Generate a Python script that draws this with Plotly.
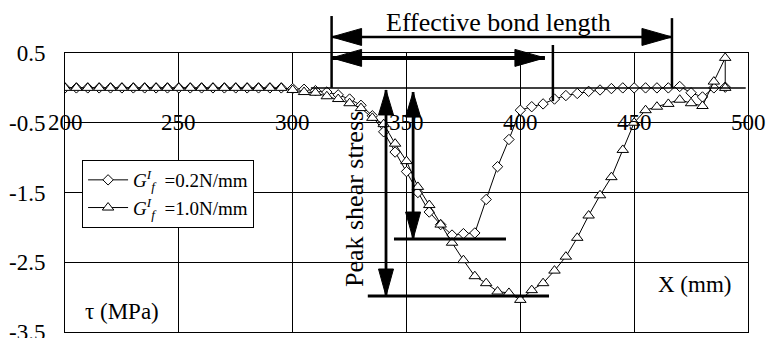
import plotly.graph_objects as go

# ---------------- data ----------------
x_vals = list(range(200, 495, 5))  # 200 ... 490 mm

tau_g02 = [0.0] * 20 + [
    -0.01, -0.02, -0.04, -0.06, -0.10, -0.16, -0.25, -0.40, -0.63, -0.92,   # 300-345
    -1.20, -1.50, -1.78, -1.96, -2.11, -2.09, -2.08, -1.60, -1.13, -0.74,   # 350-395
    -0.32, -0.27, -0.23, -0.16, -0.11, -0.08, -0.05, -0.03, -0.01, 0.00,    # 400-445
    0.00, 0.00, 0.00, 0.00, 0.02, -0.07, -0.13, 0.00, 0.01                  # 450-490
]

x_g10 = x_vals + [490]
tau_g10 = [0.0] * 20 + [
    -0.03, -0.06, -0.07, -0.12, -0.16, -0.22, -0.29, -0.43, -0.52, -0.80,   # 300-345
    -1.05, -1.42, -1.68, -1.96, -2.22, -2.47, -2.70, -2.80, -2.92, -2.94,   # 350-395
    -3.04, -2.90, -2.80, -2.62, -2.42, -2.15, -1.83, -1.54, -1.28, -0.89,   # 400-445
    -0.50, -0.32, -0.27, -0.23, -0.17, -0.22, -0.26, 0.09, 0.43, 0.00       # 450-490, 490
]

series_names = ["<i>G</i><sup><i>I</i></sup><sub><i>f</i></sub>  =0.2N/mm",
                "<i>G</i><sup><i>I</i></sup><sub><i>f</i></sub>  =1.0N/mm"]

x_ticks = [200, 250, 300, 350, 400, 450, 500]
y_ticks = [0.5, -0.5, -1.5, -2.5, -3.5]

X_MIN, X_MAX = 200, 500
Y_MIN, Y_MAX = -3.5, 0.5

# annotation geometry (data units)
eff_left, eff_right = 317.1, 466.6          # effective bond length limits
eff2_right, eff2_mark = 410.8, 414.3        # inner arrow end, marker line
peak1_x, peak2_x = 341.0, 352.9             # vertical arrows
peak1_y, peak2_y = -2.984, -2.167           # peak stress levels

FONT = '"Liberation Serif", "Times New Roman", Times, serif'

# plot area in pixels (for arrowhead sizing)
L, R, T, B = 65, 18, 53, 6
W_px = 766 - L - R
H_px = 338 - T - B


def PX(x):
    return (x - X_MIN) / (X_MAX - X_MIN)


def PY(y):
    return (y - Y_MIN) / (Y_MAX - Y_MIN)


def dxp(px):
    return px / W_px


def dyp(px):
    return px / H_px


shapes = []


def line(x0, y0, x1, y1, w):
    shapes.append(dict(type="line", xref="paper", yref="paper",
                       x0=PX(x0), y0=PY(y0), x1=PX(x1), y1=PY(y1),
                       line=dict(color="black", width=w)))


def head(xt, yt, direction, length=30, half=8.5):
    tx, ty = PX(xt), PY(yt)
    if direction == "left":
        pts = [(tx, ty), (tx + dxp(length), ty + dyp(half)), (tx + dxp(length), ty - dyp(half))]
    elif direction == "right":
        pts = [(tx, ty), (tx - dxp(length), ty + dyp(half)), (tx - dxp(length), ty - dyp(half))]
    elif direction == "up":
        pts = [(tx, ty), (tx - dxp(half), ty - dyp(length)), (tx + dxp(half), ty - dyp(length))]
    else:  # down
        pts = [(tx, ty), (tx - dxp(half), ty + dyp(length)), (tx + dxp(half), ty + dyp(length))]
    path = "M {} {} L {} {} L {} {} Z".format(*[v for p in pts for v in p])
    shapes.append(dict(type="path", xref="paper", yref="paper", path=path,
                       fillcolor="black", line=dict(color="black", width=1)))


# zero reference line
line(308, 0.0, 499, 0.0, 1.5)
# effective bond length boundaries
line(eff_left, 1.03, eff_left, 0.0, 2.5)
line(eff_right, 1.0, eff_right, 0.0, 2.5)
line(eff2_mark, 0.615, eff2_mark, -0.19, 2.5)
# horizontal double arrows
line(eff_left, 0.73, eff_right, 0.73, 2.5)
head(eff_left, 0.73, "left")
head(eff_right, 0.73, "right")
line(eff_left, 0.43, eff2_right, 0.43, 4)
head(eff_left, 0.43, "left")
head(eff2_right, 0.43, "right")
# peak stress levels
line(333.0, peak1_y, 412.6, peak1_y, 3)
line(344.5, peak2_y, 393.7, peak2_y, 3)
# vertical double arrows
line(peak1_x, -0.03, peak1_x, peak1_y, 2.8)
head(peak1_x, -0.03, "up", 25, 7.5)
head(peak1_x, peak1_y, "down", 27, 7.5)
line(peak2_x, -0.06, peak2_x, peak2_y, 2.8)
head(peak2_x, -0.06, "up", 25, 7.5)
head(peak2_x, peak2_y, "down", 27, 7.5)

fig = go.Figure()
fig.add_trace(go.Scatter(
    x=x_vals, y=tau_g02, mode="lines+markers", name=series_names[0],
    line=dict(color="black", width=1),
    marker=dict(symbol="diamond", size=8, color="white", line=dict(color="black", width=1)),
))
fig.add_trace(go.Scatter(
    x=x_g10, y=tau_g10, mode="lines+markers", name=series_names[1],
    line=dict(color="black", width=1),
    marker=dict(symbol="triangle-up", size=10, color="white", line=dict(color="black", width=1)),
))


def txt(x, y, s, size, angle=0):
    return dict(x=PX(x), y=PY(y), xref="paper", yref="paper", text=s, showarrow=False,
                textangle=angle, xanchor="center", yanchor="middle",
                font=dict(family=FONT, size=size, color="black"))


annotations = [txt(xv, -0.5, str(xv), 23) for xv in x_ticks]
annotations += [
    txt(390.6, 0.944, "Effective bond length", 26),
    txt(327.4, -1.593, "Peak shear stress", 26, -90),
    txt(225.0, -3.213, "τ (MPa)", 23),
    txt(476.7, -2.826, "X (mm)", 23),
]

fig.update_layout(
    width=766, height=338,
    margin=dict(l=L, r=R, t=T, b=B, autoexpand=False),
    paper_bgcolor="white", plot_bgcolor="white",
    font=dict(family=FONT, color="black"),
    shapes=shapes,
    annotations=annotations,
    showlegend=True,
    legend=dict(x=0.025, y=0.6165, xanchor="left", yanchor="top",
                bordercolor="black", borderwidth=1, bgcolor="white",
                font=dict(family=FONT, size=19, color="black"),
                itemwidth=40, tracegroupgap=0),
    xaxis=dict(range=[X_MIN, X_MAX], tickvals=x_ticks, showticklabels=False,
               showgrid=True, gridcolor="black", gridwidth=1, zeroline=False,
               showline=True, mirror=True, linecolor="black", linewidth=1, ticks=""),
    yaxis=dict(range=[Y_MIN, Y_MAX], tickvals=y_ticks, ticktext=[str(v) for v in y_ticks],
               showgrid=True, gridcolor="black", gridwidth=1, zeroline=False,
               showline=True, mirror=True, linecolor="black", linewidth=1, ticks="",
               ticklabeloverflow="allow",
               ticklabelstandoff=14, tickfont=dict(family=FONT, size=23, color="black")),
)

fig.write_html("out.html")
